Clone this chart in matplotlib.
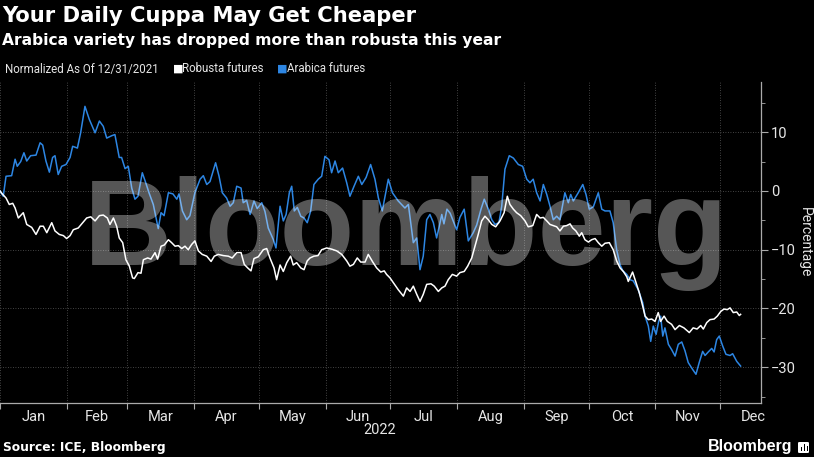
import matplotlib
matplotlib.use("Agg")
import matplotlib.pyplot as plt
from matplotlib.ticker import MultipleLocator
from matplotlib.patches import FancyBboxPatch, Rectangle

# day of year 2022 (0 = Jan 1) and % change vs 12/31/2021
arabica_day = [
    0, 1.5, 2.8, 5.4, 7.0, 8.0, 9.6, 11.1, 12.4, 14.2, 16.7, 18.6, 19.8, 21.3, 22.9,
    24.4, 25.5, 27.0, 28.6, 30.6, 32.5, 33.7, 35.9, 37.4, 39.4, 41.4, 44.1, 46.1, 47.9,
    49.5, 51.8, 53.3, 55.3, 56.4, 58.0, 59.5, 61.1, 62.6, 64.0, 66.0, 67.5, 69.1, 71.1,
    73.4, 74.7, 76.1, 78.1, 80.2, 82.0, 83.0, 84.6, 86.6, 88.1, 90.4, 92.8, 94.3, 95.9,
    97.4, 100.0, 101.6, 103.1, 105.1, 106.7, 108.2, 109.8, 111.8, 112.8, 114.4, 116.0,
    117.8, 119.3, 121.4, 122.9, 124.4, 126.8, 128.0, 129.9, 131.4, 132.7, 134.2, 135.3,
    136.5, 137.9, 139.5, 141.0, 142.5, 144.1, 145.6, 147.6, 149.2, 150.7, 152.6, 153.8,
    155.4, 156.9, 158.9, 160.8, 162.3, 164.2, 166.2, 167.8, 169.8, 171.9, 173.9, 175.5,
    177.3, 180.1, 182.0, 184.7, 187.8, 189.4, 191.7, 193.3, 194.8, 196.3, 197.9, 199.4,
    201.0, 202.5, 204.1, 204.9, 205.9, 207.3, 208.8, 211.8, 213.3, 215.3, 217.2, 219.5,
    221.1, 223.1, 224.6, 226.5, 228.1, 229.6, 231.4, 232.7, 234.2, 236.2, 238.1, 240.4,
    242.4, 244.3, 245.8, 247.3, 248.9, 250.5, 252.0, 253.6, 255.1, 256.6, 258.2, 259.7,
    262.0, 263.6, 264.7, 265.9, 268.2, 270.3, 271.8, 273.3, 275.2, 277.5, 279.1, 280.6,
    282.9, 284.4, 286.0, 287.6, 288.9, 290.7, 292.2, 293.7, 296.0, 298.1, 299.2, 300.7,
    301.8, 303.0, 304.3, 305.5, 306.4, 307.4, 308.4, 310.0, 311.5, 313.1, 314.6, 316.2,
    317.7, 319.2, 321.3, 322.8, 324.3, 325.9, 327.0, 328.5, 330.1, 331.2, 332.4, 333.6,
    335.2, 336.7, 338.6, 339.8, 341.7, 343.5,
]
arabica_pct = [
    0.0, -0.9, 2.5, 2.6, 5.4, 4.2, 5.0, 6.5, 5.1, 6.0, 6.1, 8.2, 7.8, 5.1, 3.2,
    5.7, 6.0, 2.8, 4.2, 4.5, 5.7, 7.6, 7.3, 9.9, 14.4, 12.2, 9.9, 11.9, 11.0,
    9.0, 9.4, 9.6, 5.7, 5.7, 3.8, 4.2, 0.5, -1.4, -0.9, 3.1, 1.5, -0.3, -2.3,
    -6.4, -3.7, -4.2, -0.3, -0.5, -1.4, -0.5, -3.4, -4.9, -4.2, -0.3, 2.0, 2.6, 1.1,
    1.6, 4.8, 2.5, -0.3, -1.2, -2.6, -2.0, 0.8, 0.5, -2.0, -1.6, -4.0,
    -1.7, -3.0, -2.0, -3.5, -6.3, -8.3, -9.7, -2.6, -5.1, -4.0, -0.3, 0.8,
    -3.4, -2.8, -4.3, -4.6, -5.4, -3.4, 1.1, 2.0, 2.5, 5.9, 5.3, 3.1,
    5.1, 3.1, 3.9, 1.4, -0.9, 0.8, 2.5, 1.1, 2.3, 4.5, 2.0, -1.2,
    -3.4, 2.0, -0.3, -1.7, -2.9, -2.3, -8.8, -8.0, -13.4, -11.1, -4.9, -4.0,
    -5.4, -8.0, -5.4, -4.0, -5.6, -3.1, -3.8, -6.6, -4.5, -3.1, -8.5, -7.1,
    -5.8, -3.1, -1.4, -3.1, -4.9, -5.7, -5.4, -2.6, 3.7, 6.0, 5.6, 4.5,
    4.2, 2.0, 1.4, 2.0, -0.3, -1.7, 1.1, -0.6, -2.6, -4.9, -4.3, -4.9,
    -0.3, -2.0, -0.6, -1.7, -0.3, 1.1, -0.6, -3.1, -2.7, -0.3, -3.1, -3.4,
    -3.4, -5.4, -10.0, -12.6, -13.6, -14.2, -15.1, -15.3, -16.8, -19.0, -21.3, -23.0,
    -25.6, -23.0, -24.4, -22.2, -21.3, -24.7, -23.3, -26.1, -27.0, -28.1, -26.1, -25.7,
    -27.2, -29.2, -30.4, -31.2, -29.2, -27.3, -28.0, -27.4, -26.8, -27.4, -25.3, -24.7,
    -26.4, -27.8, -28.0, -27.7, -29.0, -29.8,
]

robusta_day = [
    0, 1.3, 2.8, 4.3, 5.9, 7.0, 8.5, 10.8, 12.4, 14.7, 16.7, 18.6, 20.1, 21.7, 24.0,
    25.5, 27.5, 29.4, 30.9, 32.5, 34.0, 36.3, 38.4, 40.2, 42.1, 44.1, 46.1, 47.9, 49.8,
    51.0, 52.6, 54.1, 55.3, 56.9, 58.4, 60.0, 61.5, 62.3, 64.0, 65.4, 66.5, 68.5, 70.0,
    71.9, 73.1, 74.7, 76.2, 78.1, 79.6, 81.2, 82.7, 84.3, 85.8, 87.3, 88.9, 90.4, 92.0,
    93.8, 95.9, 97.9, 99.4, 101.2, 103.6, 105.9, 107.7, 109.8, 111.8, 113.3, 114.9,
    116.4, 117.8, 119.8, 122.1, 123.7, 125.2, 127.1, 128.3, 129.9, 131.4, 133.0, 134.8,
    136.0, 137.6, 139.5, 141.0, 142.5, 143.8, 145.6, 147.5, 149.2, 151.5, 153.8, 156.2,
    158.5, 160.8, 162.3, 163.9, 165.7, 167.3, 169.3, 170.8, 172.9, 174.7, 176.6, 178.2,
    179.3, 180.9, 182.4, 184.7, 187.1, 188.6, 190.2, 191.7, 193.3, 194.8, 196.3, 197.9,
    199.9, 201.4, 203.3, 204.9, 206.4, 207.9, 209.8, 211.8, 213.3, 215.3, 216.9, 218.8,
    220.3, 221.8, 223.4, 224.9, 226.5, 228.1, 229.9, 231.9, 233.8, 235.3, 236.5, 238.1,
    239.6, 241.5, 243.5, 245.0, 247.1, 248.9, 250.5, 252.0, 253.6, 255.1, 256.6, 258.2,
    259.7, 261.3, 262.8, 264.4, 265.6, 267.1, 268.7, 269.8, 271.3, 272.9, 274.4, 276.0,
    277.5, 279.1, 280.6, 282.6, 284.4, 286.0, 287.6, 289.1, 290.7, 291.4, 293.4, 295.0,
    296.5, 298.1, 299.2, 300.7, 302.3, 303.8, 305.3, 306.4, 308.0, 309.5, 311.5, 313.1,
    315.1, 317.2, 319.7, 321.5, 323.3, 325.0, 326.2, 327.8, 329.3, 331.2, 332.7, 334.3,
    335.8, 337.3, 338.6, 340.1, 341.7, 342.9, 343.5,
]
robusta_pct = [
    0.0, -0.6, -1.2, -2.3, -2.1, -2.9, -4.6, -3.7, -5.7, -6.2, -7.4, -6.0, -6.0, -7.1, -5.4,
    -6.8, -7.4, -7.6, -8.1, -7.6, -6.6, -6.3, -5.4, -4.6, -4.4, -5.1, -4.2, -4.1, -4.6,
    -5.7, -4.6, -6.0, -8.0, -8.8, -11.7, -12.8, -14.8, -14.9, -13.9, -14.0, -11.7, -11.4, -11.6,
    -10.5, -11.6, -9.4, -9.2, -8.3, -8.8, -9.4, -9.3, -9.8, -9.4, -10.0, -9.1, -8.5, -10.2,
    -10.8, -11.1, -12.0, -11.1, -10.8, -11.0, -11.1, -11.4, -10.5, -10.5, -12.5, -13.1,
    -13.6, -11.5, -11.2, -10.0, -9.8, -11.4, -13.1, -15.1, -12.6, -13.7, -12.2, -11.1,
    -12.6, -12.2, -13.1, -13.4, -11.9, -11.4, -11.1, -11.0, -10.0, -9.7, -9.9, -10.2,
    -10.8, -11.9, -12.8, -12.5, -11.4, -12.1, -12.1, -10.8, -12.1, -13.1, -13.8, -13.6,
    -14.2, -14.8, -15.6, -16.8, -17.9, -16.5, -17.1, -16.2, -17.6, -18.8, -17.6, -15.9,
    -15.8, -16.2, -17.1, -16.5, -16.2, -15.1, -14.2, -14.5, -13.9, -13.7, -12.8, -11.4,
    -9.4, -7.4, -5.1, -4.3, -4.9, -5.7, -6.1, -5.1, -3.7, -0.9, -2.3, -3.1,
    -3.7, -4.2, -5.1, -6.1, -5.9, -4.0, -4.6, -4.5, -5.1, -5.7, -5.9, -6.1,
    -6.8, -6.0, -5.9, -5.6, -6.3, -6.8, -7.7, -7.1, -8.3, -8.7, -8.3, -8.1,
    -8.8, -9.4, -8.9, -8.8, -10.0, -11.9, -13.1, -13.7, -14.6, -15.4, -13.8, -15.6,
    -17.3, -19.6, -21.3, -21.9, -21.8, -22.2, -20.7, -22.2, -21.3, -22.2, -22.7, -23.6,
    -22.9, -23.3, -24.1, -23.3, -23.5, -22.9, -23.5, -22.4, -21.9, -21.8, -21.3, -20.5,
    -20.1, -20.2, -19.9, -20.7, -20.6, -21.2, -21.0,
]

month_start = [0, 31, 59, 90, 120, 151, 181, 212, 243, 273, 304, 334]
month_mid = [15.5, 45, 74.5, 105, 135.5, 166, 196.5, 227.5, 258, 288.5, 319, 349.5]
month_labels = ["Jan", "Feb", "Mar", "Apr", "May", "Jun",
                "Jul", "Aug", "Sep", "Oct", "Nov", "Dec"]
y_ticks = [-30, -20, -10, 0, 10]

BLUE = "#2d86e3"
TXT = "#e6e6e6"
plt.rcParams["font.family"] = ["Roboto", "DejaVu Sans"]

fig = plt.figure(figsize=(8.14, 4.57), dpi=100, facecolor="black")
ax = fig.add_axes([0.0, 0.118, 0.935, 0.702])
ax.set_facecolor("black")

ax.plot(arabica_day, arabica_pct, color=BLUE, lw=1.1, zorder=3)
ax.plot(robusta_day, robusta_pct, color="white", lw=1.1, zorder=4)

ax.set_xlim(0, 353)
ax.set_ylim(-36.1, 18.5)

ax.set_xticks(month_start)
ax.set_xticklabels([])
ax.set_xticks(month_mid, minor=True)
ax.set_xticklabels(month_labels, minor=True)
ax.tick_params(axis="x", which="major", length=4, color="#aaaaaa", width=0.8)
ax.tick_params(axis="x", which="minor", length=0, labelsize=10.5, labelcolor=TXT, pad=5)

ax.yaxis.tick_right()
ax.yaxis.set_label_position("right")
ax.set_yticks(y_ticks)
ax.yaxis.set_minor_locator(MultipleLocator(5))
ax.tick_params(axis="y", which="major", length=5, color="#aaaaaa", labelsize=10.5,
               labelcolor=TXT, pad=2)
ax.tick_params(axis="y", which="minor", length=3, color="#aaaaaa")
ax.set_ylabel("Percentage", rotation=270, color=TXT, fontsize=10, labelpad=12)

ax.grid(True, which="major", color="#5a5a5a", linestyle=(0, (1, 2)), lw=0.6)
for s in ["top", "left"]:
    ax.spines[s].set_visible(False)
for s in ["right", "bottom"]:
    ax.spines[s].set_color("#aaaaaa")
    ax.spines[s].set_linewidth(0.9)

# watermark
ax.text(0.534, 0.43, "Bloomberg", transform=ax.transAxes, ha="center", va="baseline",
        fontsize=88, fontweight="bold", family=["Liberation Sans", "DejaVu Sans"],
        color="white", alpha=0.34, zorder=6)

fig.text(380 / 814, 1 - 430 / 457, "2022", ha="center", va="center", color=TXT, fontsize=10.5)

fig.text(0.003, 1 - 16 / 457, "Your Daily Cuppa May Get Cheaper", color="white",
         fontsize=15.2, fontweight="bold", family="DejaVu Sans", va="center", ha="left")
fig.text(0.003, 1 - 41 / 457, "Arabica variety has dropped more than robusta this year",
         color="white", fontsize=11.2, fontweight="bold", family="DejaVu Sans",
         va="center", ha="left")

ly = 1 - 69 / 457
fig.text(5 / 814, ly, "Normalized As Of 12/31/2021", color=TXT, fontsize=8.3, va="center")
fig.text(173 / 814, ly, "■", color="white", fontsize=8, va="center", family="DejaVu Sans")
fig.text(182 / 814, ly, "Robusta futures", color=TXT, fontsize=8.3, va="center")
fig.text(277 / 814, ly, "■", color=BLUE, fontsize=8, va="center", family="DejaVu Sans")
fig.text(287 / 814, ly, "Arabica futures", color=TXT, fontsize=8.3, va="center")

fig.text(3 / 814, 1 - 448 / 457, "Source: ICE, Bloomberg", color="white", fontsize=8.8,
         fontweight="bold", family="DejaVu Sans", va="center")
fig.text(792 / 814, 1 - 447 / 457, "Bloomberg", color="white", fontsize=11.5,
         fontweight="bold", family=["Liberation Sans", "DejaVu Sans"], va="center", ha="right")

# small logo box
fig.patches.append(FancyBboxPatch((798 / 814, 1 - 453 / 457), 11 / 814, 11 / 457,
                                  boxstyle="round,pad=0,rounding_size=0.002",
                                  transform=fig.transFigure, facecolor="white",
                                  edgecolor="none"))
for bx, bh in [(800.5, 4), (803.5, 7), (806.5, 5)]:
    fig.patches.append(Rectangle((bx / 814, 1 - 451 / 457), 1.5 / 814, bh / 457,
                                 transform=fig.transFigure, facecolor="black",
                                 edgecolor="none"))

fig.savefig("out.png", dpi=100, facecolor="black")
